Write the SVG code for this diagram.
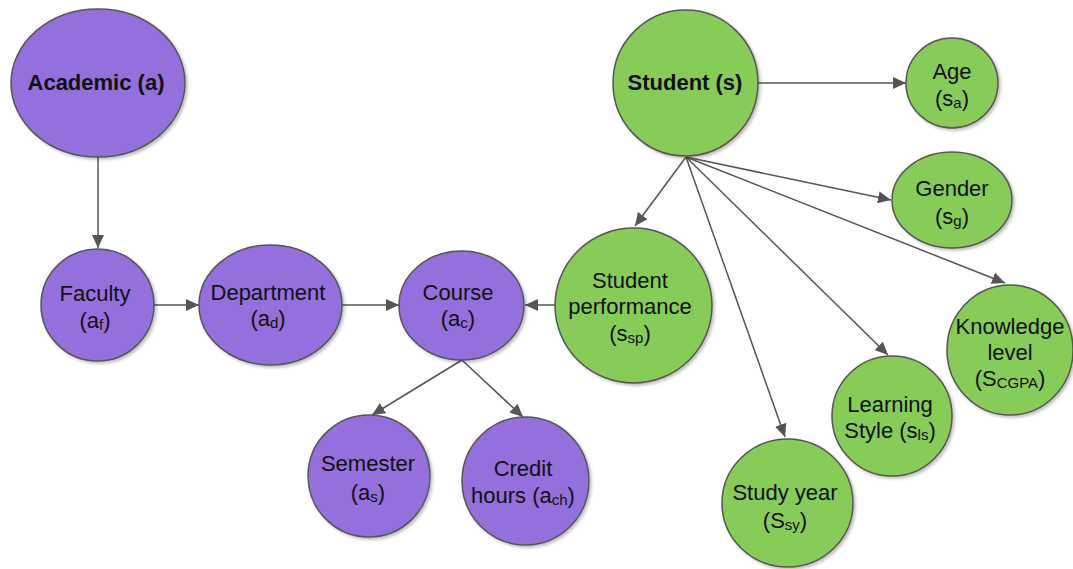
<svg xmlns="http://www.w3.org/2000/svg" width="1073" height="569" viewBox="0 0 1073 569">
<style>
.p{fill:#9370DB;stroke:#555;stroke-width:1.5;filter:url(#sh)}
.g{fill:#88CC58;stroke:#555;stroke-width:1.5;filter:url(#sh)}
text{font-family:"Liberation Sans",Arial,sans-serif;font-size:22px;fill:#111;text-anchor:middle}
.b{font-weight:bold}
.s{font-size:15px}
.c line{stroke:#555;stroke-width:1.5;marker-end:url(#ah)}
</style>
<defs>
<filter id="sh" x="-10%" y="-10%" width="125%" height="125%">
<feDropShadow dx="2" dy="2" stdDeviation="1.5" flood-color="#000" flood-opacity="0.25"/>
</filter>
<marker id="ah" markerUnits="userSpaceOnUse" markerWidth="14" markerHeight="12" refX="13" refY="6" orient="auto">
<path d="M0,0 L13,6 L0,12 Z" fill="#555"/>
</marker>
</defs>
<rect width="1073" height="569" fill="#fff"/>
<g class="c" id="connectors">
<line x1="98" y1="157" x2="98" y2="248"/>
<line x1="154" y1="305" x2="199" y2="305"/>
<line x1="342" y1="305" x2="399" y2="305"/>
<line x1="555" y1="305" x2="525" y2="305"/>
<line x1="462" y1="360" x2="372" y2="415"/>
<line x1="462" y1="360" x2="523" y2="417"/>
<line x1="758" y1="83" x2="906" y2="83"/>
<line x1="686" y1="157" x2="891" y2="200"/>
<line x1="686" y1="157" x2="635" y2="226"/>
<line x1="686" y1="157" x2="785" y2="437"/>
<line x1="686" y1="157" x2="888" y2="355"/>
<line x1="686" y1="157" x2="1005" y2="283"/>
</g>
<g id="academic"><ellipse class="p" cx="98" cy="83" rx="87" ry="74"/><text class="b" x="96" y="90">Academic (a)</text></g>
<g id="faculty"><ellipse class="p" cx="97.5" cy="305" rx="56.5" ry="56"/><text x="95" y="301">Faculty</text><text x="95" y="328">(a<tspan class="s" dy="2">f</tspan><tspan dy="-2">)</tspan></text></g>
<g id="department"><ellipse class="p" cx="270.5" cy="305" rx="71.5" ry="60"/><text x="268" y="300">Department</text><text x="268" y="326">(a<tspan class="s" dy="2">d</tspan><tspan dy="-2">)</tspan></text></g>
<g id="course"><ellipse class="p" cx="461.5" cy="305.5" rx="62.5" ry="54.5"/><text x="458" y="300">Course</text><text x="458" y="326">(a<tspan class="s" dy="2">c</tspan><tspan dy="-2">)</tspan></text></g>
<g id="semester"><ellipse class="p" cx="369" cy="476" rx="61" ry="61"/><text x="368" y="471">Semester</text><text x="368" y="500">(a<tspan class="s" dy="2">s</tspan><tspan dy="-2">)</tspan></text></g>
<g id="credit"><ellipse class="p" cx="525.5" cy="481" rx="63.5" ry="64"/><text x="523" y="476">Credit</text><text x="523" y="503">hours (a<tspan class="s" dy="2">ch</tspan><tspan dy="-2">)</tspan></text></g>
<g id="student"><ellipse class="g" cx="685.5" cy="83" rx="72.5" ry="73"/><text class="b" x="685" y="90">Student (s)</text></g>
<g id="age"><ellipse class="g" cx="952" cy="83" rx="46" ry="45"/><text x="952" y="79">Age</text><text x="952" y="106">(s<tspan class="s" dy="2">a</tspan><tspan dy="-2">)</tspan></text></g>
<g id="gender"><ellipse class="g" cx="952" cy="200" rx="60" ry="48"/><text x="952" y="196">Gender</text><text x="952" y="224">(s<tspan class="s" dy="2">g</tspan><tspan dy="-2">)</tspan></text></g>
<g id="performance"><ellipse class="g" cx="633.5" cy="305.5" rx="78.5" ry="77.5"/><text x="630" y="288">Student</text><text x="630" y="314">performance</text><text x="630" y="341">(s<tspan class="s" dy="2">sp</tspan><tspan dy="-2">)</tspan></text></g>
<g id="studyyear"><ellipse class="g" cx="787.5" cy="503" rx="65.5" ry="64"/><text x="785" y="500">Study year</text><text x="785" y="528">(S<tspan class="s" dy="2">sy</tspan><tspan dy="-2">)</tspan></text></g>
<g id="learning"><ellipse class="g" cx="892" cy="416" rx="60" ry="60"/><text x="890" y="412">Learning</text><text x="890" y="438">Style (s<tspan class="s" dy="2">ls</tspan><tspan dy="-2">)</tspan></text></g>
<g id="knowledge"><ellipse class="g" cx="1010" cy="350" rx="63" ry="65"/><text x="1010" y="334">Knowledge</text><text x="1010" y="360">level</text><text x="1010" y="386">(S<tspan class="s" dy="2">CGPA</tspan><tspan dy="-2">)</tspan></text></g>
</svg>
